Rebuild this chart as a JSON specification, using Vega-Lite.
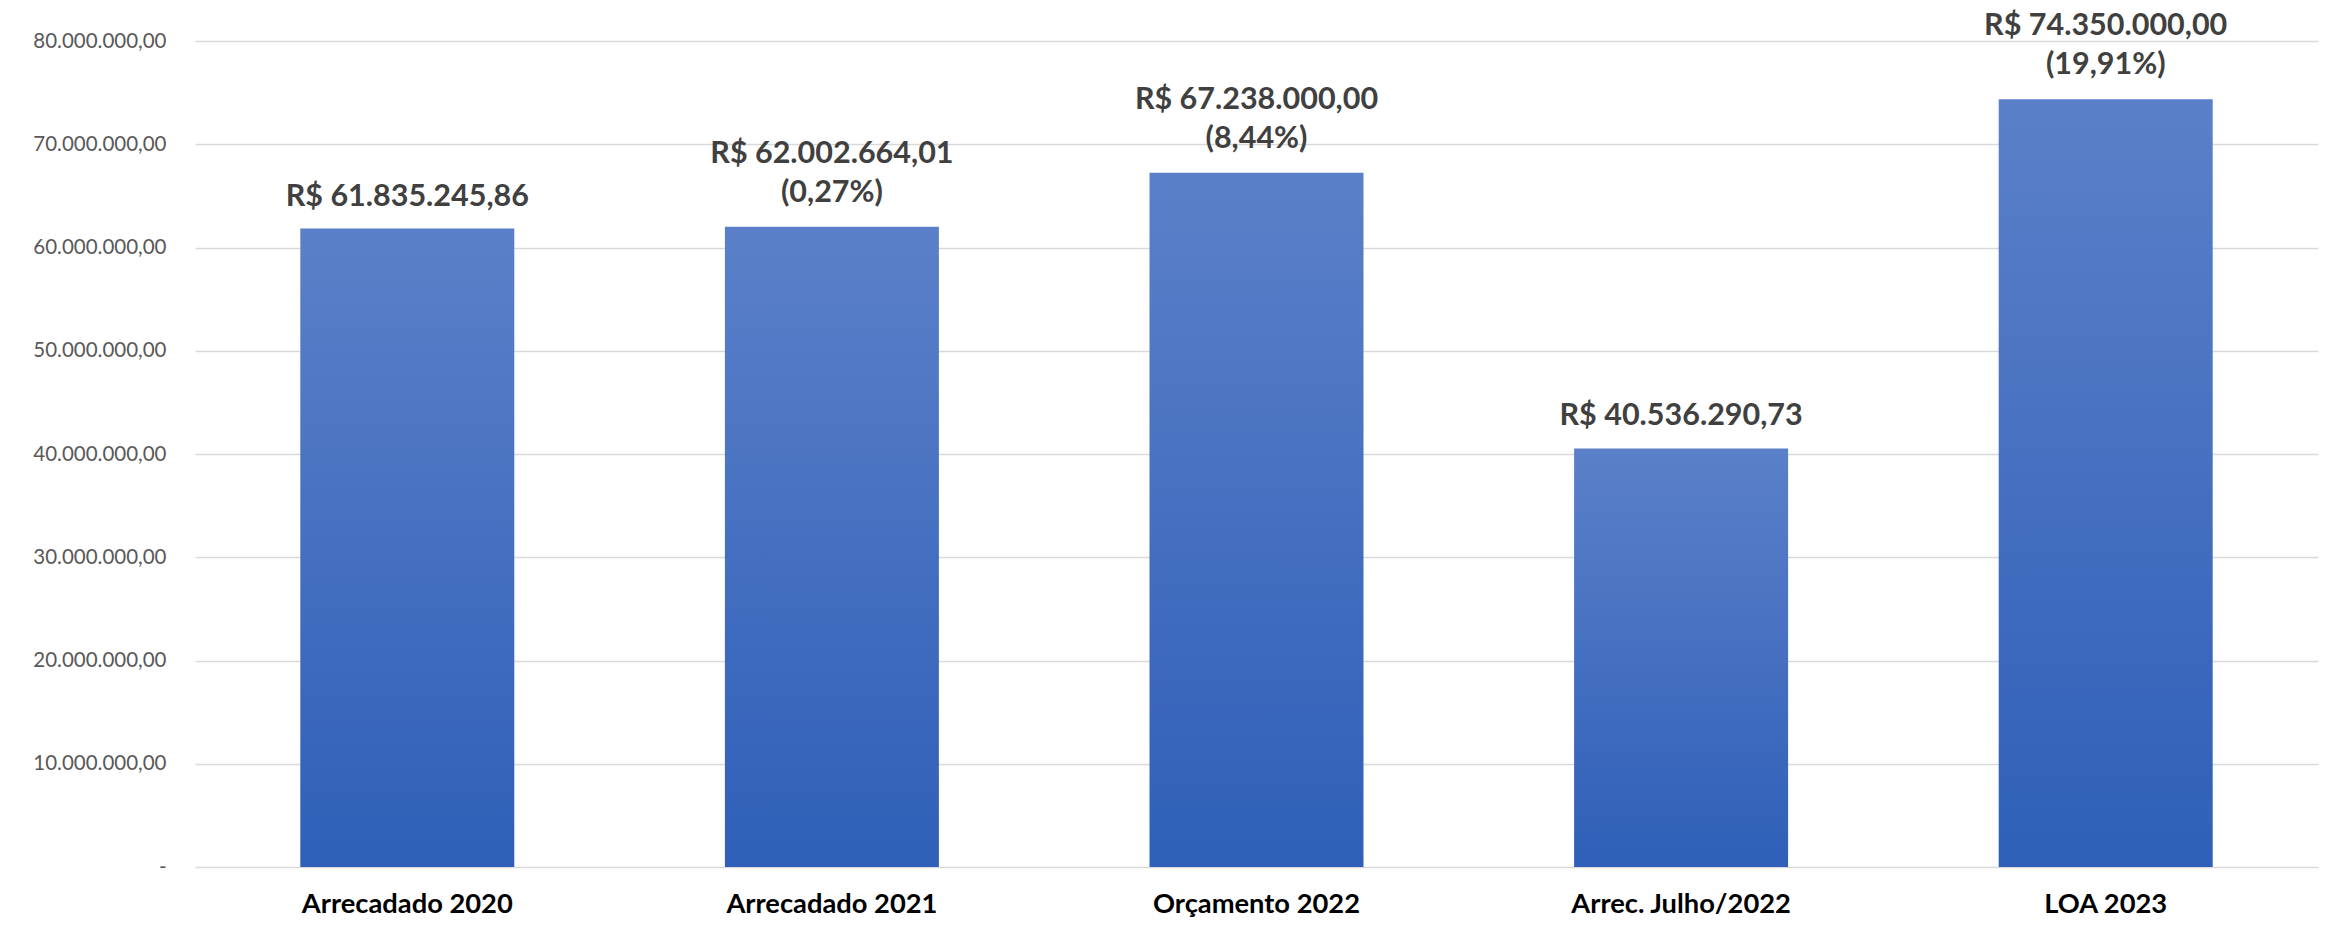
{
  "$schema": "https://vega.github.io/schema/vega-lite/v6.json",
  "autosize": "none",
  "width": 2123,
  "height": 826,
  "padding": {"left": 195, "top": 41, "right": 7, "bottom": 69},
  "background": "white",
  "config": {
    "locale": {"number": {"decimal": ",", "thousands": ".", "grouping": [3], "currency": ["R$ ", ""]}},
    "view": {"stroke": null},
    "font": "Lato"
  },
  "data": {
    "values": [
      {"categoria": "Arrecadado 2020", "valor": 61835245.86, "pct": ""},
      {"categoria": "Arrecadado 2021", "valor": 62002664.01, "pct": "0,27%"},
      {"categoria": "Orçamento 2022", "valor": 67238000.00, "pct": "8,44%"},
      {"categoria": "Arrec. Julho/2022", "valor": 40536290.73, "pct": ""},
      {"categoria": "LOA 2023", "valor": 74350000.00, "pct": "19,91%"}
    ]
  },
  "transform": [
    {"calculate": "'R$ ' + format(datum.valor, ',.2f')", "as": "rotulo"},
    {"calculate": "datum.pct ? '(' + datum.pct + ')' : ''", "as": "rotulo_pct"}
  ],
  "encoding": {
    "x": {
      "field": "categoria", "type": "nominal", "sort": null,
      "scale": {"paddingInner": 0.496, "paddingOuter": 0.248},
      "axis": {
        "title": null, "domain": false, "ticks": false, "labelAngle": 0, "labelLimit": 0,
        "labelFont": "Lato", "labelFontWeight": "bold", "labelFontSize": 27.3,
        "labelColor": "#000000", "labelPadding": 23, "labelBaseline": "top"
      }
    },
    "y": {
      "field": "valor", "type": "quantitative",
      "scale": {"domain": [0, 80000000], "nice": false},
      "axis": {
        "title": null, "domain": false, "ticks": false,
        "values": [0, 10000000, 20000000, 30000000, 40000000, 50000000, 60000000, 70000000, 80000000],
        "labelExpr": "datum.value == 0 ? '-' : format(datum.value, ',.2f')",
        "labelFont": "Lato", "labelFontSize": 20.5, "labelColor": "#595959", "labelPadding": 29,
        "gridColor": "#d9d9d9", "gridWidth": 1.5
      }
    }
  },
  "layer": [
    {
      "mark": {
        "type": "bar",
        "color": {
          "gradient": "linear", "x1": 0, "y1": 0, "x2": 0, "y2": 1,
          "stops": [{"offset": 0, "color": "#5B80C9"}, {"offset": 1, "color": "#2F5FB8"}]
        }
      }
    },
    {
      "transform": [{"filter": "datum.pct == ''"}],
      "mark": {
        "type": "text", "baseline": "alphabetic", "dy": -23,
        "font": "Lato", "fontWeight": "bold", "fontSize": 30.5, "color": "#404040"
      },
      "encoding": {"text": {"field": "rotulo", "type": "nominal"}}
    },
    {
      "transform": [{"filter": "datum.pct != ''"}],
      "mark": {
        "type": "text", "baseline": "alphabetic", "dy": -64,
        "font": "Lato", "fontWeight": "bold", "fontSize": 30.5, "color": "#404040"
      },
      "encoding": {"text": {"field": "rotulo", "type": "nominal"}}
    },
    {
      "transform": [{"filter": "datum.pct != ''"}],
      "mark": {
        "type": "text", "baseline": "alphabetic", "dy": -25,
        "font": "Lato", "fontWeight": "bold", "fontSize": 30.5, "color": "#404040"
      },
      "encoding": {"text": {"field": "rotulo_pct", "type": "nominal"}}
    }
  ]
}
